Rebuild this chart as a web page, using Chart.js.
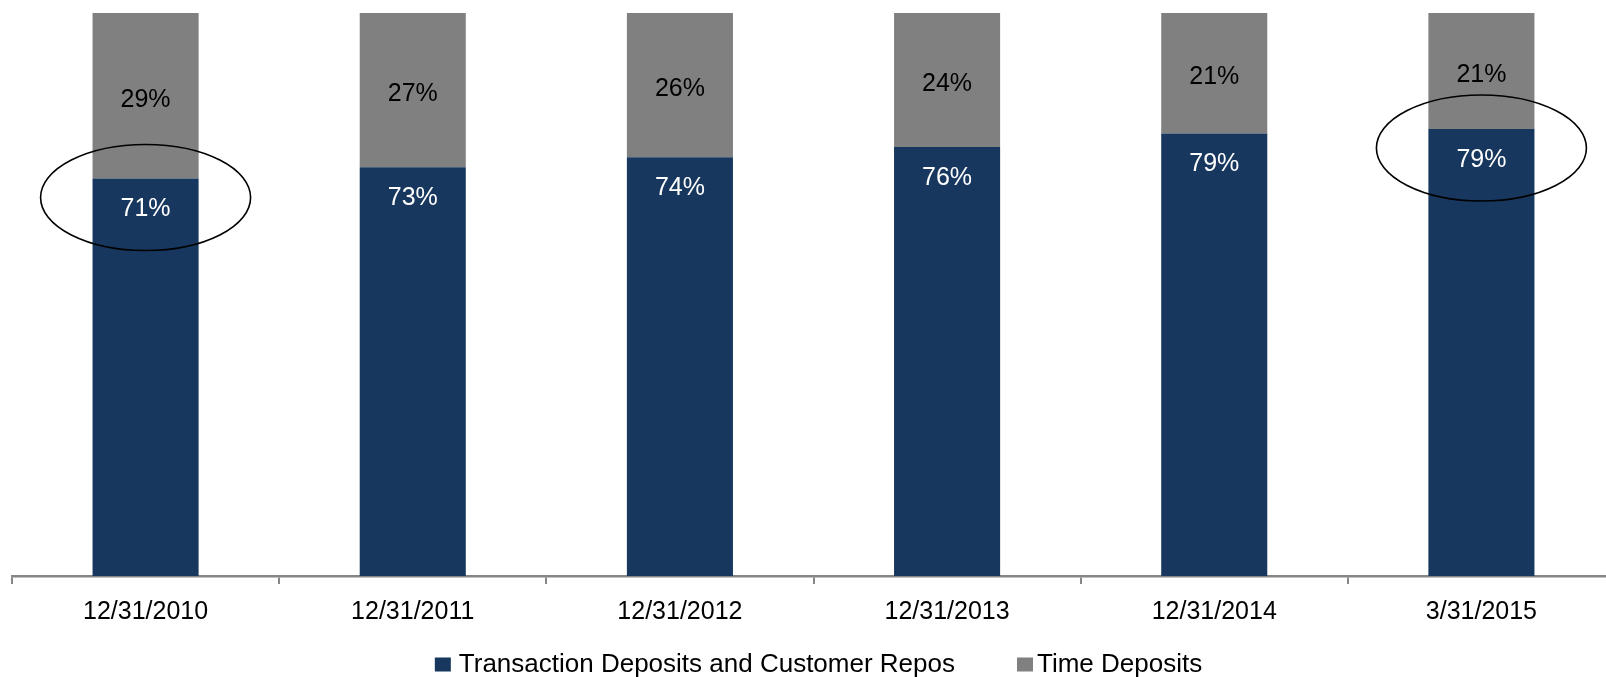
<!DOCTYPE html>
<html>
<head>
<meta charset="utf-8">
<script src="https://cdn.jsdelivr.net/npm/chart.js@4/dist/chart.umd.min.js"></script>
<style>
  html, body { margin: 0; padding: 0; background: #fff; overflow: hidden; }
  #wrap { width: 1616px; height: 677px; }
</style>
</head>
<body>
<div id="wrap"><canvas id="myChart" width="1616" height="677"></canvas></div>
<script>
// categories and shares (percent of total deposits)
var categories = ['12/31/2010', '12/31/2011', '12/31/2012', '12/31/2013', '12/31/2014', '3/31/2015'];
var transactionDeposits = [70.6, 72.6, 74.4, 76.2, 78.6, 79.4];
var timeDeposits = [29.4, 27.4, 25.6, 23.8, 21.4, 20.6];
var circled = [0, 5]; // bars highlighted with an ellipse

var FONT = "'Liberation Sans', Arial, sans-serif";

// percent labels inside the bars + the ellipses
var barLabels = {
    id: 'barLabels',
    afterDatasetsDraw: function(chart) {
        var ctx = chart.ctx;
        ctx.save();
        ctx.font = '25px ' + FONT;
        ctx.textAlign = 'center';
        ctx.textBaseline = 'middle';
        chart.data.datasets.forEach(function(ds, di) {
            var meta = chart.getDatasetMeta(di);
            meta.data.forEach(function(bar, i) {
                var txt = Math.round(ds.data[i]) + '%';
                if (di === 0) {
                    ctx.fillStyle = '#ffffff';
                    ctx.fillText(txt, bar.x, bar.y + 31);
                } else {
                    ctx.fillStyle = '#000000';
                    ctx.fillText(txt, bar.x, (bar.y + bar.base) / 2 + 4);
                }
            });
        });

        var navy = chart.getDatasetMeta(0);
        ctx.strokeStyle = '#000000';
        ctx.lineWidth = 1.6;
        circled.forEach(function(i) {
            var bar = navy.data[i];
            ctx.beginPath();
            ctx.ellipse(bar.x, bar.y + 19, bar.width * 0.99, bar.width * 0.5, 0, 0, Math.PI * 2);
            ctx.stroke();
        });
        ctx.restore();
    }
};

// legend at the bottom (built-in one spaces items too loosely vertically)
var bottomLegend = {
    id: 'bottomLegend',
    afterDraw: function(chart) {
        var ctx = chart.ctx;
        var ds = chart.data.datasets;
        ctx.save();
        ctx.font = '26px ' + FONT;
        ctx.textBaseline = 'middle';
        var box = 16, boxH = 14, gaps = [8, 4], itemGap = 62;
        var total = 0;
        ds.forEach(function(d, i) {
            total += box + gaps[i] + ctx.measureText(d.label).width;
            if (i < ds.length - 1) total += itemGap;
        });
        var x = (chart.chartArea.left + chart.chartArea.right) / 2 + 5 - total / 2;
        var y = chart.height - 12.5;
        ds.forEach(function(d, i) {
            ctx.fillStyle = d.backgroundColor;
            ctx.fillRect(x, y - boxH / 2, box, boxH);
            x += box + gaps[i];
            ctx.fillStyle = '#000000';
            ctx.fillText(d.label, x, y);
            x += ctx.measureText(d.label).width + itemGap;
        });
        ctx.restore();
    }
};

var ctx = document.getElementById('myChart').getContext('2d');
var myChart = new Chart(ctx, {
    type: 'bar',
    data: {
        labels: categories,
        datasets: [{
            label: 'Transaction Deposits and Customer Repos',
            data: transactionDeposits,
            backgroundColor: '#17375e',
            barPercentage: 0.397,
            categoryPercentage: 1
        }, {
            label: 'Time Deposits',
            data: timeDeposits,
            backgroundColor: '#808080',
            barPercentage: 0.397,
            categoryPercentage: 1
        }]
    },
    options: {
        responsive: false,
        animation: false,
        devicePixelRatio: 1,
        layout: { padding: { left: 12, top: 13, right: 1, bottom: 37 } },
        plugins: {
            tooltip: { enabled: false },
            legend: { display: false }
        },
        scales: {
            x: {
                stacked: true,
                grid: {
                    display: true,
                    offset: true,
                    drawOnChartArea: false,
                    drawTicks: true,
                    tickLength: 8,
                    color: '#868686',
                    lineWidth: 2
                },
                border: { display: true, color: '#868686', width: 2.5 },
                ticks: {
                    color: '#000000',
                    font: { family: FONT, size: 25 },
                    padding: 13,
                    maxRotation: 0
                }
            },
            y: {
                stacked: true,
                display: false,
                min: 0,
                max: 100
            }
        }
    },
    plugins: [barLabels, bottomLegend]
});
</script>
</body>
</html>
